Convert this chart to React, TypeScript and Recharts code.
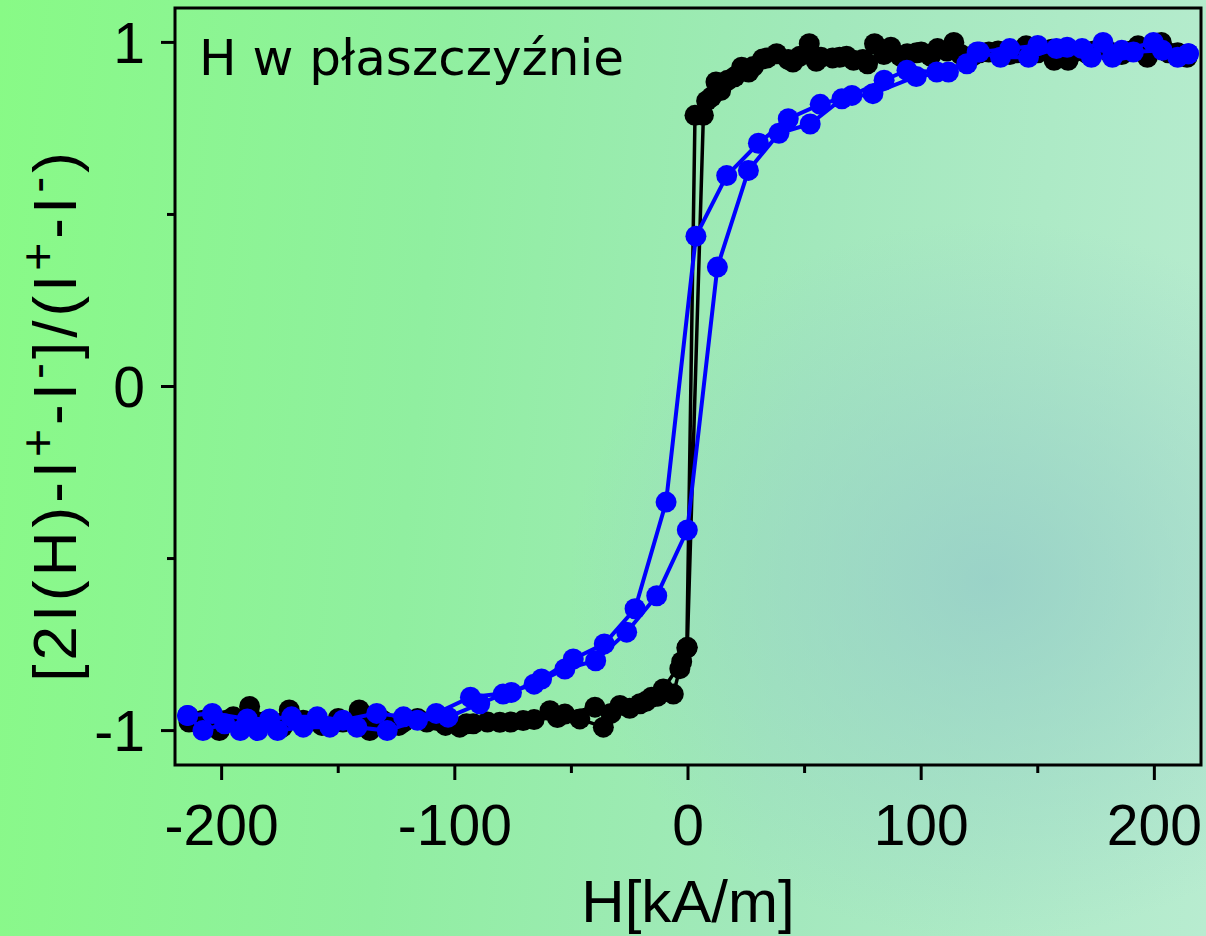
import React from 'react';
import { ScatterChart, Scatter, XAxis, YAxis, ReferenceArea } from 'recharts';

// H [kA/m] and normalised signal
const blackDownH = [214, 210, 203, 197, 193, 186, 180, 171, 163, 157, 150, 145, 138, 129, 122, 119, 114, 107, 100, 94, 87, 80, 77, 71, 65, 57, 52, 45, 38, 32, 26, 23, 17, 12, 10, 6.6, -0.3, -2.7, -10.6, -15.6, -20.6, -29.2, -39.9, -52.8, -59.2, -70.7, -80.7, -92.1, -97.9, -108, -116, -122, -136.5, -141, -150, -160, -171, -180, -188, -195, -201, -208, -214];
const blackDownM = [0.957, 0.97, 1.0, 0.957, 0.99, 0.965, 0.975, 0.968, 0.948, 0.948, 0.97, 0.99, 0.965, 0.972, 0.96, 0.957, 1.0, 0.982, 0.972, 0.967, 0.986, 0.996, 0.938, 0.948, 0.957, 0.957, 0.996, 0.943, 0.967, 0.952, 0.914, 0.928, 0.89, 0.885, 0.841, 0.788, -0.758, -0.8, -0.879, -0.903, -0.922, -0.927, -0.932, -0.952, -0.942, -0.971, -0.976, -0.98, -0.99, -0.97, -0.965, -0.975, -1.0, -0.94, -0.965, -0.97, -0.94, -0.97, -0.93, -0.96, -1.0, -0.97, -0.96];

const blackUpH = [-214, -206, -198, -190, -182, -174, -165, -157, -148, -140, -131, -124, -112, -104, -95, -86, -76, -66, -56, -46.4, -36.3, -33, -25, -18, -13, -6.3, -3.5, -0.5, 3, 8, 14, 20, 28, 34, 43, 48, 55, 62, 68, 75, 84, 91, 98, 104, 111, 117, 125, 133, 141, 149, 156, 165, 174, 182, 190, 199, 206, 212];
const blackUpM = [-0.975, -0.985, -0.97, -0.98, -0.975, -0.99, -0.97, -0.985, -0.975, -0.98, -0.97, -0.985, -0.975, -0.985, -0.98, -0.975, -0.975, -0.968, -0.962, -0.966, -0.99, -0.95, -0.935, -0.915, -0.9, -0.894, -0.82, -0.76, 0.788, 0.83, 0.86, 0.9, 0.93, 0.955, 0.95, 0.96, 0.945, 0.955, 0.96, 0.95, 0.965, 0.96, 0.97, 0.96, 0.975, 0.965, 0.97, 0.975, 0.97, 0.975, 0.98, 0.97, 0.975, 0.97, 0.975, 0.985, 0.97, 0.965];

const blueDownH = [214.6, 203.4, 191, 182, 173, 162.6, 150, 138, 125, 119.6, 106.7, 93.9, 84.1, 70.3, 56.7, 43, 30.2, 16.6, 3.4, -9.4, -22.7, -35.9, -49.2, -62.8, -75.7, -93.3, -108, -122, -133.5, -148, -159, -170, -179.4, -189, -204, -214.6];
const blueDownM = [0.967, 0.977, 0.972, 0.957, 0.957, 0.986, 0.991, 0.982, 0.972, 0.938, 0.914, 0.919, 0.89, 0.846, 0.82, 0.778, 0.707, 0.613, 0.437, -0.336, -0.646, -0.748, -0.792, -0.85, -0.889, -0.903, -0.95, -0.96, -0.95, -0.97, -0.96, -0.96, -0.966, -0.966, -0.95, -0.956];

const blueUpH = [-214.6, -208, -198.7, -192, -184.5, -176, -165, -153.6, -142, -129, -116, -102.9, -89.3, -79.3, -66, -52.8, -39.6, -26.3, -13.4, -0.3, 12.6, 25.9, 39, 52.4, 66, 79.3, 97.9, 111.7, 124, 134, 146, 158, 169, 178, 186, 199.6, 210, 214.6];
const blueUpM = [-0.956, -1.0, -0.98, -1.0, -1.0, -1.0, -0.99, -0.99, -0.99, -1.0, -0.97, -0.961, -0.922, -0.894, -0.865, -0.821, -0.797, -0.714, -0.608, -0.417, 0.347, 0.628, 0.736, 0.763, 0.836, 0.851, 0.901, 0.914, 0.972, 0.957, 0.957, 0.982, 0.982, 1.0, 0.977, 1.0, 0.957, 0.967];

const xTicks = [-200, -150, -100, -50, 0, 50, 100, 150, 200];
const yTicks = [-1, -0.5, 0, 0.5, 1];

const zip = (hs: number[], ms: number[]) => hs.map((h, i) => ({ h, m: ms[i] }));

const blackLoop = [...zip(blackDownH, blackDownM), ...zip(blackUpH, blackUpM)];
const blueLoop = [...zip(blueDownH, blueDownM), ...zip(blueUpH, blueUpM)];

const FONT = '"Liberation Sans", Arial, sans-serif';

const XTick = (props: any) => {
  const { x, y, payload } = props;
  const major = payload.value % 100 === 0;
  return (
    <g>
      <line x1={x} y1={y} x2={x} y2={y + (major ? 15 : 8)} stroke="#000" strokeWidth={3} />
      {major && (
        <text x={x} y={y + 80} textAnchor="middle" fontSize={57} fontFamily={FONT} fill="#000">
          {String(payload.value)}
        </text>
      )}
    </g>
  );
};

const YTick = (props: any) => {
  const { x, y, payload } = props;
  const major = Number.isInteger(payload.value);
  return (
    <g>
      <line x1={x} y1={y} x2={x - (major ? 14 : 8)} y2={y} stroke="#000" strokeWidth={3} />
      {major && (
        <text x={x - 30} y={y} dy="0.36em" textAnchor="end" fontSize={57} fontFamily={FONT} fill="#000">
          {String(payload.value)}
        </text>
      )}
    </g>
  );
};

const BlackDot = (p: any) => <circle cx={p.cx} cy={p.cy} r={10.5} fill="#000" />;
const BlueDot = (p: any) => <circle cx={p.cx} cy={p.cy} r={10.5} fill="#0000ff" />;

export default function App() {
  return (
    <div
      style={{
        position: 'absolute',
        left: 0,
        top: 0,
        width: 1206,
        height: 936,
        background:
          'radial-gradient(ellipse 420px 360px at 82% 62%, rgba(150,205,200,0.8), rgba(150,205,200,0) 100%), linear-gradient(95deg, #88fa86 0%, #90efa0 35%, #a2e8bc 65%, #b8ecd0 100%)',
      }}
    >
      <ScatterChart width={1206} height={936} margin={{ top: 8, right: 5, bottom: 0, left: 75 }}>
        <XAxis
          type="number"
          dataKey="h"
          domain={[-220, 220]}
          ticks={xTicks}
          interval={0}
          height={171}
          tickSize={0}
          tickMargin={0}
          axisLine={false}
          tickLine={false}
          tick={<XTick />}
          allowDataOverflow
          label={{
            content: (lp: any) => (
              <text
                x={lp.viewBox.x + lp.viewBox.width / 2}
                y={lp.viewBox.y + 157}
                textAnchor="middle"
                fontSize={60}
                fontFamily={FONT}
                fill="#000"
              >
                H[kA/m]
              </text>
            ),
          }}
        />
        <YAxis
          type="number"
          dataKey="m"
          domain={[-1.1, 1.1]}
          ticks={yTicks}
          interval={0}
          width={100}
          tickSize={0}
          tickMargin={0}
          axisLine={false}
          tickLine={false}
          tick={<YTick />}
          allowDataOverflow
        />
        <Scatter
          data={blackLoop}
          line={{ stroke: '#000', strokeWidth: 3.5 }}
          lineType="joint"
          shape={BlackDot}
          isAnimationActive={false}
        />
        <Scatter
          data={blueLoop}
          line={{ stroke: '#0000ff', strokeWidth: 4 }}
          lineType="joint"
          shape={BlueDot}
          isAnimationActive={false}
        />
        <ReferenceArea x1={-220} x2={220} y1={-1.1} y2={1.1} fill="none" stroke="#000" strokeWidth={3} />
      </ScatterChart>
      <svg
        width={1206}
        height={936}
        style={{ position: 'absolute', left: 0, top: 0, pointerEvents: 'none' }}
      >
        <text x={199} y={75} fontSize={50} fontFamily='"DejaVu Sans", Verdana, sans-serif' fill="#000">
          H w płaszczyźnie
        </text>
        <text
          transform="translate(76 415) rotate(-90)"
          textAnchor="middle"
          fontSize={62}
          letterSpacing={4}
          fontFamily={FONT}
          fill="#000"
        >
          [2I(H)-I<tspan dy={-22} fontSize={48}>+</tspan>
          <tspan dy={22}>-I</tspan>
          <tspan dy={-22} fontSize={48}>-</tspan>
          <tspan dy={22}>]/(I</tspan>
          <tspan dy={-22} fontSize={48}>+</tspan>
          <tspan dy={22}>-I</tspan>
          <tspan dy={-22} fontSize={48}>-</tspan>
          <tspan dy={22}>)</tspan>
        </text>
      </svg>
    </div>
  );
}
